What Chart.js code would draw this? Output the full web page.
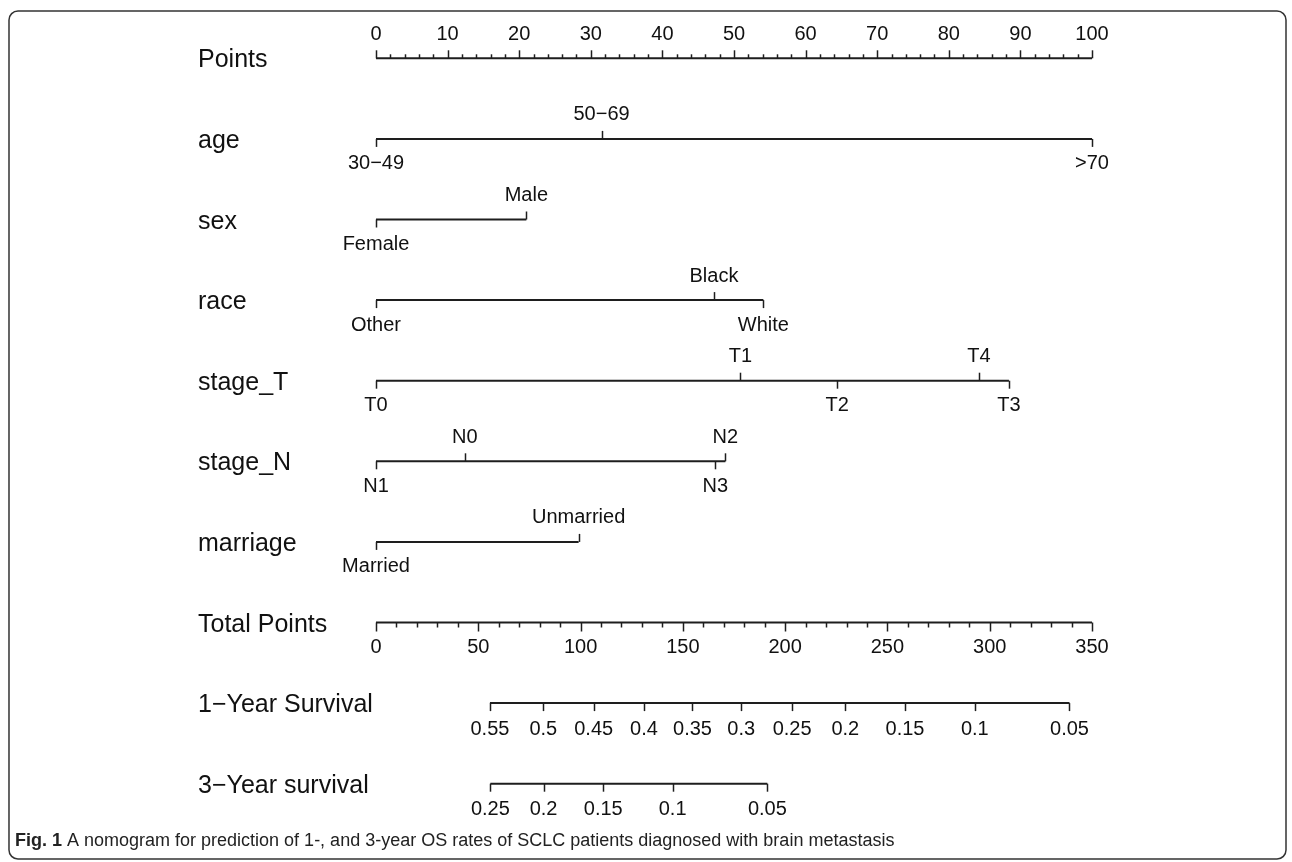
<!DOCTYPE html>
<html>
<head>
<meta charset="utf-8">
<script src="https://cdn.jsdelivr.net/npm/chart.js@4.4.1/dist/chart.umd.min.js"></script>
<style>
  html, body { margin: 0; padding: 0; background: #ffffff; }
  #wrap { width: 1292px; height: 862px; position: relative; }
  canvas { display: block; }
</style>
</head>
<body>
<div id="wrap"><canvas id="c" width="1292" height="862"></canvas></div>
<script>
// ---------------- DATA ----------------
const rowNames = ['Points', 'age', 'sex', 'race', 'stage_T', 'stage_N', 'marriage',
                  'Total Points', '1\u2212Year Survival', '3\u2212Year survival'];

const pointsTicks = [0, 10, 20, 30, 40, 50, 60, 70, 80, 90, 100];
const pointsMinorStep = 2;

const ageLevels = ['30\u221249', '50\u221269', '>70'];
const agePoints = [0, 31.5, 100];

const sexLevels = ['Female', 'Male'];
const sexPoints = [0, 21.0];

const raceLevels = ['Other', 'Black', 'White'];
const racePoints = [0, 47.2, 54.1];

const stageTLevels = ['T0', 'T1', 'T2', 'T4', 'T3'];
const stageTPoints = [0, 50.9, 64.4, 84.2, 88.4];

const stageNLevels = ['N1', 'N0', 'N3', 'N2'];
const stageNPoints = [0, 12.4, 47.4, 48.8];

const marriageLevels = ['Married', 'Unmarried'];
const marriagePoints = [0, 28.3];

const totalTicks = [0, 50, 100, 150, 200, 250, 300, 350];
const totalMinorStep = 10;

const surv1Labels = ['0.55', '0.5', '0.45', '0.4', '0.35', '0.3', '0.25', '0.2', '0.15', '0.1', '0.05'];
const surv1Total  = [55.7, 81.8, 106.4, 131.0, 154.7, 178.5, 203.4, 229.4, 258.6, 292.7, 339.0];

const surv3Labels = ['0.25', '0.2', '0.15', '0.1', '0.05'];
const surv3Total  = [55.9, 81.9, 111.1, 145.0, 191.3];

const captionBold = 'Fig. 1';
const captionText = ' A nomogram for prediction of 1-, and 3-year OS rates of SCLC patients diagnosed with brain metastasis';

// ---------------- BUILD ----------------
const totalMax = totalTicks[totalTicks.length - 1];
const pointsMax = pointsTicks[pointsTicks.length - 1];
const toPts = t => t * pointsMax / totalMax;

const catRows = [
  { row: 1, levels: ageLevels, pts: agePoints },
  { row: 2, levels: sexLevels, pts: sexPoints },
  { row: 3, levels: raceLevels, pts: racePoints },
  { row: 4, levels: stageTLevels, pts: stageTPoints },
  { row: 5, levels: stageNLevels, pts: stageNPoints },
  { row: 6, levels: marriageLevels, pts: marriagePoints }
];
const survRows = [
  { row: 8, labels: surv1Labels, total: surv1Total },
  { row: 9, labels: surv3Labels, total: surv3Total }
];

const LINE = '#1e1e1e';
function seg(x0, x1, y) {
  return { data: [{ x: x0, y: y }, { x: x1, y: y }], showLine: true, borderColor: LINE,
           borderWidth: 2, pointRadius: 0, fill: false };
}
const datasets = [];
datasets.push(seg(pointsTicks[0], pointsMax, 0));
catRows.forEach(r => datasets.push(seg(Math.min(...r.pts), Math.max(...r.pts), r.row)));
datasets.push(seg(toPts(totalTicks[0]), toPts(totalMax), 7));
survRows.forEach(r => datasets.push(seg(toPts(Math.min(...r.total)), toPts(Math.max(...r.total)), r.row)));

const TICK_FONT = '20px "Liberation Sans", Arial, sans-serif';
const ROW_FONT = '25px "Liberation Sans", Arial, sans-serif';
const TXT = '#111111';

const nomoPlugin = {
  id: 'nomo',
  beforeDraw(chart) {
    const ctx = chart.ctx;
    ctx.save();
    ctx.fillStyle = '#ffffff';
    ctx.fillRect(0, 0, chart.width, chart.height);
    ctx.restore();
  },
  afterDatasetsDraw(chart) {
    const ctx = chart.ctx;
    const xs = chart.scales.x, ys = chart.scales.y;
    const X = v => xs.getPixelForValue(v);
    const Y = v => ys.getPixelForValue(v);
    ctx.save();
    ctx.strokeStyle = LINE;
    ctx.fillStyle = TXT;
    ctx.lineWidth = 1.5;

    function tick(x, y, len) {
      ctx.beginPath();
      ctx.moveTo(Math.round(x) + 0.5, y);
      ctx.lineTo(Math.round(x) + 0.5, y + len);
      ctx.stroke();
    }
    function label(txt, x, y) {
      ctx.font = TICK_FONT;
      ctx.textAlign = 'center';
      ctx.textBaseline = 'middle';
      ctx.fillText(txt, x, y);
    }

    // row names
    ctx.font = ROW_FONT;
    ctx.textAlign = 'left';
    ctx.textBaseline = 'alphabetic';
    rowNames.forEach((n, i) => ctx.fillText(n, 198, Y(i) + 9));

    // Points axis (ticks up, labels above)
    let y0 = Y(0);
    for (let v = pointsTicks[0]; v <= pointsMax + 1e-9; v += pointsMinorStep) {
      if (!pointsTicks.includes(v)) tick(X(v), y0, -4);
    }
    pointsTicks.forEach(v => { tick(X(v), y0, -8); label(String(v), X(v), y0 - 24); });

    // categorical rows
    catRows.forEach(r => {
      const yy = Y(r.row);
      const order = r.pts.map((p, i) => i).sort((a, b) => r.pts[a] - r.pts[b]);
      order.forEach((idx, k) => {
        const above = k % 2 === 1;
        const x = X(r.pts[idx]);
        tick(x, yy, above ? -8 : 8);
        label(r.levels[idx], x, above ? yy - 24 : yy + 25);
      });
    });

    // Total points (ticks down, labels below)
    y0 = Y(7);
    for (let v = totalTicks[0]; v <= totalMax + 1e-9; v += totalMinorStep) {
      if (!totalTicks.includes(v)) tick(X(toPts(v)), y0, 5);
    }
    totalTicks.forEach(v => { tick(X(toPts(v)), y0, 9); label(String(v), X(toPts(v)), y0 + 25); });

    // survival rows
    survRows.forEach(r => {
      const yy = Y(r.row);
      r.total.forEach((t, i) => {
        const x = X(toPts(t));
        tick(x, yy, 8);
        label(r.labels[i], x, yy + 26);
      });
    });
    ctx.restore();
  },
  afterDraw(chart) {
    const ctx = chart.ctx;
    ctx.save();
    // frame
    ctx.strokeStyle = '#333333';
    ctx.lineWidth = 1.5;
    const x0 = 9, y0 = 11, x1 = 1286, y1 = 859, r = 9;
    ctx.beginPath();
    ctx.moveTo(x0 + r, y0);
    ctx.lineTo(x1 - r, y0);
    ctx.arcTo(x1, y0, x1, y0 + r, r);
    ctx.lineTo(x1, y1 - r);
    ctx.arcTo(x1, y1, x1 - r, y1, r);
    ctx.lineTo(x0 + r, y1);
    ctx.arcTo(x0, y1, x0, y1 - r, r);
    ctx.lineTo(x0, y0 + r);
    ctx.arcTo(x0, y0, x0 + r, y0, r);
    ctx.stroke();
    // caption
    ctx.fillStyle = '#222222';
    ctx.textAlign = 'left';
    ctx.textBaseline = 'alphabetic';
    ctx.font = 'bold 18px "Liberation Sans Narrow", "Liberation Sans", Arial, sans-serif';
    ctx.fillText(captionBold, 15, 846);
    const w = ctx.measureText(captionBold).width;
    ctx.font = '18px "Liberation Sans Narrow", "Liberation Sans", Arial, sans-serif';
    ctx.fillText(captionText, 15 + w, 846);
    ctx.restore();
  }
};

new Chart(document.getElementById('c'), {
  type: 'scatter',
  data: { datasets: datasets },
  options: {
    responsive: false,
    animation: false,
    events: [],
    layout: { padding: { left: 376, right: 200, top: 18, bottom: 38 } },
    plugins: { legend: { display: false }, tooltip: { enabled: false } },
    scales: {
      x: { type: 'linear', min: 0, max: pointsMax, display: false },
      y: { type: 'linear', min: -0.5, max: rowNames.length - 0.5, reverse: true, display: false }
    }
  },
  plugins: [nomoPlugin]
});
</script>
</body>
</html>
